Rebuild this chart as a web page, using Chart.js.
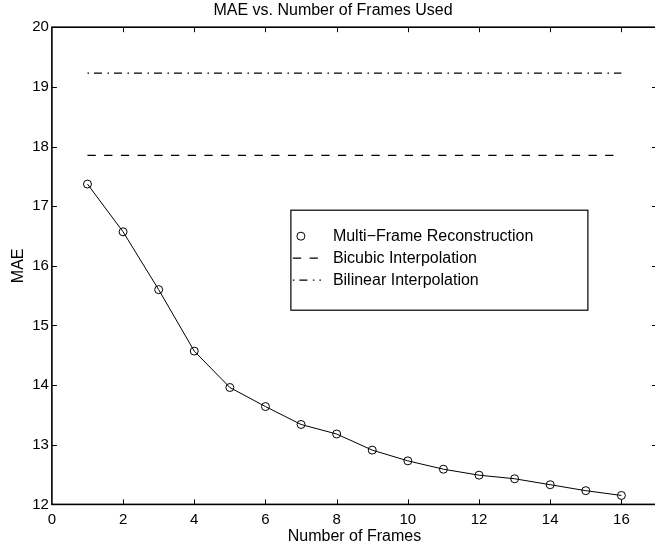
<!DOCTYPE html>
<html>
<head>
<meta charset="utf-8">
<script src="https://cdn.jsdelivr.net/npm/chart.js@4"></script>
<style>
  html, body { margin: 0; padding: 0; background: #fff; overflow: hidden; }
  #wrap { width: 662px; height: 549px; }
</style>
</head>
<body>
<div id="wrap"><canvas id="chart" width="662" height="549"></canvas></div>
<script>
// MAE vs number of frames
const frames   = [1, 2, 3, 4, 5, 6, 7, 8, 9, 10, 11, 12, 13, 14, 15, 16];
const maeMulti = [17.37, 16.57, 15.60, 14.57, 13.96, 13.64, 13.34, 13.18,
                  12.91, 12.73, 12.59, 12.49, 12.43, 12.33, 12.23, 12.15];
const refFrames   = [1, 16];
const maeBicubic  = [17.85, 17.85];
const maeBilinear = [19.23, 19.23];
const seriesNames = ['Multi\u2212Frame Reconstruction', 'Bicubic Interpolation', 'Bilinear Interpolation'];

const FONT = "'Liberation Sans', Arial, Helvetica, sans-serif";

const toXY = (xs, ys) => xs.map((x, i) => ({ x, y: ys[i] }));

// MATLAB-ish box with inward ticks on all four sides
const boxPlugin = {
  id: 'boxTicks',
  afterDatasetsDraw(chart) {
    const { ctx, chartArea: a, scales: { x, y } } = chart;
    ctx.save();
    ctx.strokeStyle = '#000';
    ctx.lineWidth = 1;
    ctx.beginPath();
    x.ticks.forEach(t => {
      const px = Math.round(x.getPixelForValue(t.value)) + 0.5;
      if (px <= a.left + 1) return;
      ctx.moveTo(px, a.bottom); ctx.lineTo(px, a.bottom - 5);
      ctx.moveTo(px, a.top);    ctx.lineTo(px, a.top + 5);
    });
    y.ticks.forEach(t => {
      const py = Math.round(y.getPixelForValue(t.value)) + 0.5;
      if (py >= a.bottom - 1 || py <= a.top + 1) return;
      ctx.moveTo(a.left, py);  ctx.lineTo(a.left + 5, py);
      ctx.moveTo(a.right, py); ctx.lineTo(a.right - 5, py);
    });
    ctx.stroke();
    ctx.lineWidth = 1.6;
    ctx.strokeRect(a.left, a.top, a.right - a.left, a.bottom - a.top);
    ctx.restore();
  }
};

// legend box inside the axes
const legendPlugin = {
  id: 'boxLegend',
  afterDraw(chart) {
    const { ctx, chartArea: a } = chart;
    const bx = a.left + 239, by = a.top + 183, bw = 297, bh = 100;
    ctx.save();
    ctx.fillStyle = '#fff';
    ctx.fillRect(bx, by, bw, bh);
    ctx.strokeStyle = '#000';
    ctx.lineWidth = 1.2;
    ctx.strokeRect(bx, by, bw, bh);
    ctx.font = '16px ' + FONT;
    ctx.textBaseline = 'middle';
    chart.data.datasets.forEach((ds, i) => {
      const ry = by + 26 + i * 22;
      if (ds.legendMarkerOnly) {
        ctx.beginPath();
        ctx.lineWidth = 1;
        ctx.arc(bx + 10, ry, 4, 0, Math.PI * 2);
        ctx.stroke();
      } else {
        ctx.beginPath();
        ctx.lineWidth = ds.borderWidth;
        ctx.setLineDash(ds.borderDash || []);
        ctx.moveTo(bx + 2, ry); ctx.lineTo(bx + 30, ry);
        ctx.stroke();
        ctx.setLineDash([]);
      }
      ctx.fillStyle = '#000';
      ctx.fillText(ds.label, bx + 42, ry);
    });
    ctx.restore();
  }
};

new Chart(document.getElementById('chart'), {
  type: 'line',
  data: {
    datasets: [
      {
        label: seriesNames[0],
        data: toXY(frames, maeMulti),
        borderColor: '#000',
        borderWidth: 1,
        pointRadius: 4,
        pointBorderWidth: 1,
        pointBorderColor: '#000',
        pointBackgroundColor: 'rgba(0,0,0,0)',
        tension: 0,
        legendMarkerOnly: true
      },
      {
        label: seriesNames[1],
        data: toXY(refFrames, maeBicubic),
        borderColor: '#000',
        borderWidth: 1.2,
        borderDash: [8.3, 8.4],
        pointRadius: 0
      },
      {
        label: seriesNames[2],
        data: toXY(refFrames, maeBilinear),
        borderColor: '#000',
        borderWidth: 1.2,
        borderDash: [1.5, 5, 8, 5.5],
        pointRadius: 0
      }
    ]
  },
  options: {
    responsive: false,
    animation: false,
    layout: { padding: { left: 7, right: 3, top: 0, bottom: 0 } },
    plugins: {
      legend: { display: false },
      tooltip: { enabled: false },
      title: {
        display: true,
        text: 'MAE vs. Number of Frames Used',
        color: '#000',
        font: { family: FONT, size: 16, weight: 'normal' },
        padding: { top: 1, bottom: 7 }
      }
    },
    scales: {
      x: {
        type: 'linear',
        min: 0, max: 17,
        grid: { display: false, drawTicks: false },
        border: { display: false },
        ticks: {
          stepSize: 2, includeBounds: false, padding: 8,
          color: '#000', font: { family: FONT, size: 15, lineHeight: 1 }
        },
        title: {
          display: true, text: 'Number of Frames', color: '#000',
          font: { family: FONT, size: 16 }, padding: { top: -8, bottom: 2.4 }
        }
      },
      y: {
        min: 12, max: 20,
        grid: { display: false, drawTicks: false },
        border: { display: false },
        ticks: {
          stepSize: 1, padding: 3,
          color: '#000', font: { family: FONT, size: 15 }
        },
        title: {
          display: true, text: 'MAE', color: '#000',
          font: { family: FONT, size: 16 }, padding: { top: 2, bottom: 1 }
        }
      }
    }
  },
  plugins: [boxPlugin, legendPlugin]
});
</script>
</body>
</html>
